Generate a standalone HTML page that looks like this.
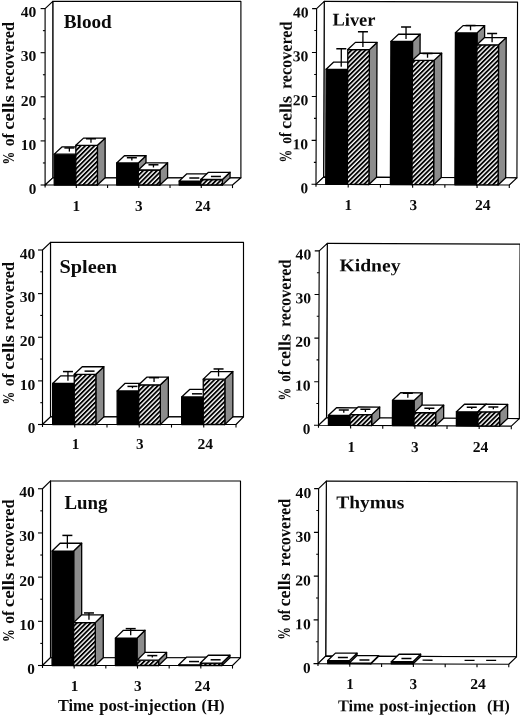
<!DOCTYPE html>
<html>
<head>
<meta charset="utf-8">
<title>Cell recovery by organ</title>
<style>
html,body{margin:0;padding:0;background:#fff;}
body{width:520px;height:717px;overflow:hidden;font-family:"Liberation Serif",serif;}
svg{display:block;filter:grayscale(1);}
svg text{font-family:"Liberation Serif",serif;font-weight:bold;fill:#0a0a0a;}
</style>
</head>
<body>
<svg width="520" height="717" viewBox="0 0 520 717">
<defs>
<pattern id="h" patternUnits="userSpaceOnUse" width="3.25" height="3.25" patternTransform="rotate(-45)">
<rect width="3.25" height="3.25" fill="#fff"/>
<rect width="3.25" height="1.85" fill="#000"/>
</pattern>
</defs>
<rect width="520" height="717" fill="#fff"/>
<g>
<polygon points="52.8,1.4 240.9,1.4 240.9,177.8 52.8,177.8" fill="#fff" stroke="#000" stroke-width="1.15" stroke-linejoin="round" />
<polygon points="45.1,8.6 52.8,1.4 52.8,177.8 45.1,185" fill="#fff" stroke="#000" stroke-width="1.15" stroke-linejoin="round" />
<polygon points="45.1,185 52.8,177.8 240.9,177.8 232.5,185" fill="#fff" stroke="#000" stroke-width="1.15" stroke-linejoin="round" />
<line x1="40.6" y1="185" x2="45.1" y2="185" stroke="#000" stroke-width="1.1"/>
<text x="36.4" y="193.7" font-size="15.2" text-anchor="end" >0</text>
<line x1="42.9" y1="162.95" x2="45.1" y2="162.95" stroke="#000" stroke-width="1.1"/>
<line x1="40.6" y1="140.9" x2="45.1" y2="140.9" stroke="#000" stroke-width="1.1"/>
<text x="36.4" y="149.6" font-size="15.2" text-anchor="end" textLength="15.6" lengthAdjust="spacingAndGlyphs">10</text>
<line x1="42.9" y1="118.85" x2="45.1" y2="118.85" stroke="#000" stroke-width="1.1"/>
<line x1="40.6" y1="96.8" x2="45.1" y2="96.8" stroke="#000" stroke-width="1.1"/>
<text x="36.4" y="105.5" font-size="15.2" text-anchor="end" textLength="15.6" lengthAdjust="spacingAndGlyphs">20</text>
<line x1="42.9" y1="74.75" x2="45.1" y2="74.75" stroke="#000" stroke-width="1.1"/>
<line x1="40.6" y1="52.7" x2="45.1" y2="52.7" stroke="#000" stroke-width="1.1"/>
<text x="36.4" y="61.4" font-size="15.2" text-anchor="end" textLength="15.6" lengthAdjust="spacingAndGlyphs">30</text>
<line x1="42.9" y1="30.65" x2="45.1" y2="30.65" stroke="#000" stroke-width="1.1"/>
<line x1="40.6" y1="8.6" x2="45.1" y2="8.6" stroke="#000" stroke-width="1.1"/>
<text x="36.4" y="17.3" font-size="15.2" text-anchor="end" textLength="15.6" lengthAdjust="spacingAndGlyphs">40</text>
<line x1="45.1" y1="185" x2="45.1" y2="187.5" stroke="#000" stroke-width="1.1"/>
<line x1="76.33" y1="185" x2="76.33" y2="188.1" stroke="#000" stroke-width="1.1"/>
<line x1="107.57" y1="185" x2="107.57" y2="188.1" stroke="#000" stroke-width="1.1"/>
<line x1="138.8" y1="185" x2="138.8" y2="188.1" stroke="#000" stroke-width="1.1"/>
<line x1="170.03" y1="185" x2="170.03" y2="188.1" stroke="#000" stroke-width="1.1"/>
<line x1="201.27" y1="185" x2="201.27" y2="188.1" stroke="#000" stroke-width="1.1"/>
<line x1="232.5" y1="185" x2="232.5" y2="188.1" stroke="#000" stroke-width="1.1"/>
<polygon points="75.83,154.13 83.53,146.93 83.53,177.8 75.83,185" fill="#8c8c8c" stroke="#000" stroke-width="1.3" stroke-linejoin="round" />
<polygon points="54.23,154.13 75.83,154.13 75.83,185 54.23,185" fill="#000" stroke="#000" stroke-width="1.3" stroke-linejoin="round" />
<polygon points="54.23,154.13 61.93,146.93 83.53,146.93 75.83,154.13" fill="#fff" stroke="#000" stroke-width="1.3" stroke-linejoin="round" />
<line x1="69.38" y1="151.61" x2="69.38" y2="147.93" stroke="#000" stroke-width="1.3"/>
<line x1="64.38" y1="147.93" x2="74.38" y2="147.93" stroke="#000" stroke-width="1.5"/>
<polygon points="97.43,145.31 105.13,138.11 105.13,177.8 97.43,185" fill="#8c8c8c" stroke="#000" stroke-width="1.3" stroke-linejoin="round" />
<polygon points="75.83,145.31 97.43,145.31 97.43,185 75.83,185" fill="url(#h)" stroke="#000" stroke-width="1.3" stroke-linejoin="round" />
<polygon points="75.83,145.31 83.53,138.11 105.13,138.11 97.43,145.31" fill="#fff" stroke="#000" stroke-width="1.3" stroke-linejoin="round" />
<line x1="90.98" y1="142.79" x2="90.98" y2="138.76" stroke="#000" stroke-width="1.3"/>
<line x1="85.98" y1="138.76" x2="95.98" y2="138.76" stroke="#000" stroke-width="1.5"/>
<polygon points="138.3,162.95 146,155.75 146,177.8 138.3,185" fill="#8c8c8c" stroke="#000" stroke-width="1.3" stroke-linejoin="round" />
<polygon points="116.7,162.95 138.3,162.95 138.3,185 116.7,185" fill="#000" stroke="#000" stroke-width="1.3" stroke-linejoin="round" />
<polygon points="116.7,162.95 124.4,155.75 146,155.75 138.3,162.95" fill="#fff" stroke="#000" stroke-width="1.3" stroke-linejoin="round" />
<line x1="131.85" y1="160.43" x2="131.85" y2="157.72" stroke="#000" stroke-width="1.3"/>
<line x1="126.85" y1="157.72" x2="136.85" y2="157.72" stroke="#000" stroke-width="1.5"/>
<polygon points="159.9,170.01 167.6,162.81 167.6,177.8 159.9,185" fill="#8c8c8c" stroke="#000" stroke-width="1.3" stroke-linejoin="round" />
<polygon points="138.3,170.01 159.9,170.01 159.9,185 138.3,185" fill="url(#h)" stroke="#000" stroke-width="1.3" stroke-linejoin="round" />
<polygon points="138.3,170.01 146,162.81 167.6,162.81 159.9,170.01" fill="#fff" stroke="#000" stroke-width="1.3" stroke-linejoin="round" />
<line x1="153.45" y1="167.48" x2="153.45" y2="164.78" stroke="#000" stroke-width="1.3"/>
<line x1="148.45" y1="164.78" x2="158.45" y2="164.78" stroke="#000" stroke-width="1.5"/>
<polygon points="200.77,181.03 208.47,173.83 208.47,177.8 200.77,185" fill="#8c8c8c" stroke="#000" stroke-width="1.3" stroke-linejoin="round" />
<polygon points="179.17,181.03 200.77,181.03 200.77,185 179.17,185" fill="#000" stroke="#000" stroke-width="1.3" stroke-linejoin="round" />
<polygon points="179.17,181.03 186.87,173.83 208.47,173.83 200.77,181.03" fill="#fff" stroke="#000" stroke-width="1.3" stroke-linejoin="round" />
<line x1="189.32" y1="178.01" x2="199.32" y2="178.01" stroke="#000" stroke-width="1.5"/>
<polygon points="222.37,179.49 230.07,172.29 230.07,177.8 222.37,185" fill="#8c8c8c" stroke="#000" stroke-width="1.3" stroke-linejoin="round" />
<polygon points="200.77,179.49 222.37,179.49 222.37,185 200.77,185" fill="url(#h)" stroke="#000" stroke-width="1.3" stroke-linejoin="round" />
<polygon points="200.77,179.49 208.47,172.29 230.07,172.29 222.37,179.49" fill="#fff" stroke="#000" stroke-width="1.3" stroke-linejoin="round" />
<line x1="210.92" y1="176.46" x2="220.92" y2="176.46" stroke="#000" stroke-width="1.5"/>
<text x="76.3" y="211" font-size="15.2" text-anchor="middle" >1</text>
<text x="138.8" y="211" font-size="15.2" text-anchor="middle" >3</text>
<text x="202.7" y="211" font-size="15.2" text-anchor="middle" textLength="15.6" lengthAdjust="spacingAndGlyphs">24</text>
<text x="63.75" y="27.5" font-size="17.9" text-anchor="start" textLength="48" lengthAdjust="spacingAndGlyphs">Blood</text>
<text transform="translate(14.3 163.3) rotate(-90)" font-size="17.5"><tspan x="-1.2" textLength="12.8" lengthAdjust="spacingAndGlyphs">%</tspan><tspan x="17" textLength="13" lengthAdjust="spacingAndGlyphs">of</tspan><tspan x="33.5" textLength="34.6" lengthAdjust="spacingAndGlyphs">cells</tspan><tspan x="73.4" textLength="67.9" lengthAdjust="spacingAndGlyphs">recovered</tspan></text>
</g>
<g transform="rotate(0.2 316 184.3)">
<polygon points="323.6,1.4 516.9,1.4 516.9,177.1 323.6,177.1" fill="#fff" stroke="#000" stroke-width="1.15" stroke-linejoin="round" />
<polygon points="316,8.6 323.6,1.4 323.6,177.1 316,184.3" fill="#fff" stroke="#000" stroke-width="1.15" stroke-linejoin="round" />
<polygon points="316,184.3 323.6,177.1 516.9,177.1 509.3,184.3" fill="#fff" stroke="#000" stroke-width="1.15" stroke-linejoin="round" />
<line x1="311.5" y1="184.3" x2="316" y2="184.3" stroke="#000" stroke-width="1.1"/>
<text x="308" y="193.2" font-size="15.2" text-anchor="end" >0</text>
<line x1="313.8" y1="162.34" x2="316" y2="162.34" stroke="#000" stroke-width="1.1"/>
<line x1="311.5" y1="140.38" x2="316" y2="140.38" stroke="#000" stroke-width="1.1"/>
<text x="308" y="149.28" font-size="15.2" text-anchor="end" textLength="15.6" lengthAdjust="spacingAndGlyphs">10</text>
<line x1="313.8" y1="118.41" x2="316" y2="118.41" stroke="#000" stroke-width="1.1"/>
<line x1="311.5" y1="96.45" x2="316" y2="96.45" stroke="#000" stroke-width="1.1"/>
<text x="308" y="105.35" font-size="15.2" text-anchor="end" textLength="15.6" lengthAdjust="spacingAndGlyphs">20</text>
<line x1="313.8" y1="74.49" x2="316" y2="74.49" stroke="#000" stroke-width="1.1"/>
<line x1="311.5" y1="52.53" x2="316" y2="52.53" stroke="#000" stroke-width="1.1"/>
<text x="308" y="61.43" font-size="15.2" text-anchor="end" textLength="15.6" lengthAdjust="spacingAndGlyphs">30</text>
<line x1="313.8" y1="30.56" x2="316" y2="30.56" stroke="#000" stroke-width="1.1"/>
<line x1="311.5" y1="8.6" x2="316" y2="8.6" stroke="#000" stroke-width="1.1"/>
<text x="308" y="17.5" font-size="15.2" text-anchor="end" textLength="15.6" lengthAdjust="spacingAndGlyphs">40</text>
<line x1="316" y1="184.3" x2="316" y2="186.8" stroke="#000" stroke-width="1.1"/>
<line x1="348.22" y1="184.3" x2="348.22" y2="187.4" stroke="#000" stroke-width="1.1"/>
<line x1="380.43" y1="184.3" x2="380.43" y2="187.4" stroke="#000" stroke-width="1.1"/>
<line x1="412.65" y1="184.3" x2="412.65" y2="187.4" stroke="#000" stroke-width="1.1"/>
<line x1="444.87" y1="184.3" x2="444.87" y2="187.4" stroke="#000" stroke-width="1.1"/>
<line x1="477.08" y1="184.3" x2="477.08" y2="187.4" stroke="#000" stroke-width="1.1"/>
<line x1="509.3" y1="184.3" x2="509.3" y2="187.4" stroke="#000" stroke-width="1.1"/>
<polygon points="347.32,69.22 354.92,62.02 354.92,177.1 347.32,184.3" fill="#8c8c8c" stroke="#000" stroke-width="1.3" stroke-linejoin="round" />
<polygon points="325.72,69.22 347.32,69.22 347.32,184.3 325.72,184.3" fill="#000" stroke="#000" stroke-width="1.3" stroke-linejoin="round" />
<polygon points="325.72,69.22 333.32,62.02 354.92,62.02 347.32,69.22" fill="#fff" stroke="#000" stroke-width="1.3" stroke-linejoin="round" />
<line x1="340.82" y1="66.69" x2="340.82" y2="48.62" stroke="#000" stroke-width="1.3"/>
<line x1="335.82" y1="48.62" x2="345.82" y2="48.62" stroke="#000" stroke-width="1.5"/>
<polygon points="368.92,49.45 376.52,42.25 376.52,177.1 368.92,184.3" fill="#8c8c8c" stroke="#000" stroke-width="1.3" stroke-linejoin="round" />
<polygon points="347.32,49.45 368.92,49.45 368.92,184.3 347.32,184.3" fill="url(#h)" stroke="#000" stroke-width="1.3" stroke-linejoin="round" />
<polygon points="347.32,49.45 354.92,42.25 376.52,42.25 368.92,49.45" fill="#fff" stroke="#000" stroke-width="1.3" stroke-linejoin="round" />
<line x1="362.42" y1="46.93" x2="362.42" y2="31.62" stroke="#000" stroke-width="1.3"/>
<line x1="357.42" y1="31.62" x2="367.42" y2="31.62" stroke="#000" stroke-width="1.5"/>
<polygon points="412,41.1 419.6,33.9 419.6,177.1 412,184.3" fill="#8c8c8c" stroke="#000" stroke-width="1.3" stroke-linejoin="round" />
<polygon points="390.4,41.1 412,41.1 412,184.3 390.4,184.3" fill="#000" stroke="#000" stroke-width="1.3" stroke-linejoin="round" />
<polygon points="390.4,41.1 398,33.9 419.6,33.9 412,41.1" fill="#fff" stroke="#000" stroke-width="1.3" stroke-linejoin="round" />
<line x1="405.5" y1="38.58" x2="405.5" y2="26.66" stroke="#000" stroke-width="1.3"/>
<line x1="400.5" y1="26.66" x2="410.5" y2="26.66" stroke="#000" stroke-width="1.5"/>
<polygon points="433.6,59.99 441.2,52.79 441.2,177.1 433.6,184.3" fill="#8c8c8c" stroke="#000" stroke-width="1.3" stroke-linejoin="round" />
<polygon points="412,59.99 433.6,59.99 433.6,184.3 412,184.3" fill="url(#h)" stroke="#000" stroke-width="1.3" stroke-linejoin="round" />
<polygon points="412,59.99 419.6,52.79 441.2,52.79 433.6,59.99" fill="#fff" stroke="#000" stroke-width="1.3" stroke-linejoin="round" />
<line x1="427.1" y1="57.47" x2="427.1" y2="53.02" stroke="#000" stroke-width="1.3"/>
<line x1="422.1" y1="53.02" x2="432.1" y2="53.02" stroke="#000" stroke-width="1.5"/>
<polygon points="476.48,32.32 484.08,25.12 484.08,177.1 476.48,184.3" fill="#8c8c8c" stroke="#000" stroke-width="1.3" stroke-linejoin="round" />
<polygon points="454.88,32.32 476.48,32.32 476.48,184.3 454.88,184.3" fill="#000" stroke="#000" stroke-width="1.3" stroke-linejoin="round" />
<polygon points="454.88,32.32 462.48,25.12 484.08,25.12 476.48,32.32" fill="#fff" stroke="#000" stroke-width="1.3" stroke-linejoin="round" />
<line x1="469.98" y1="29.8" x2="469.98" y2="24.9" stroke="#000" stroke-width="1.3"/>
<line x1="464.98" y1="24.9" x2="474.98" y2="24.9" stroke="#000" stroke-width="1.5"/>
<polygon points="498.08,44.18 505.68,36.98 505.68,177.1 498.08,184.3" fill="#8c8c8c" stroke="#000" stroke-width="1.3" stroke-linejoin="round" />
<polygon points="476.48,44.18 498.08,44.18 498.08,184.3 476.48,184.3" fill="url(#h)" stroke="#000" stroke-width="1.3" stroke-linejoin="round" />
<polygon points="476.48,44.18 484.08,36.98 505.68,36.98 498.08,44.18" fill="#fff" stroke="#000" stroke-width="1.3" stroke-linejoin="round" />
<line x1="491.58" y1="41.66" x2="491.58" y2="32.81" stroke="#000" stroke-width="1.3"/>
<line x1="486.58" y1="32.81" x2="496.58" y2="32.81" stroke="#000" stroke-width="1.5"/>
<text x="348.39" y="209.89" font-size="15.2" text-anchor="middle" >1</text>
<text x="413.39" y="209.66" font-size="15.2" text-anchor="middle" >3</text>
<text x="482.79" y="209.42" font-size="15.2" text-anchor="middle" textLength="15.6" lengthAdjust="spacingAndGlyphs">24</text>
<text x="331.95" y="25.54" font-size="17.9" text-anchor="start" textLength="43" lengthAdjust="spacingAndGlyphs">Liver</text>
<text transform="translate(291.18 161.39) rotate(-90)" font-size="17.5"><tspan x="-1.2" textLength="12.8" lengthAdjust="spacingAndGlyphs">%</tspan><tspan x="17.6" textLength="11.2" lengthAdjust="spacingAndGlyphs">of</tspan><tspan x="32.2" textLength="33.2" lengthAdjust="spacingAndGlyphs">cells</tspan><tspan x="72.2" textLength="67.6" lengthAdjust="spacingAndGlyphs">recovered</tspan></text>
</g>
<g>
<polygon points="50.5,242.4 243.5,242.4 243.5,416.9 50.5,416.9" fill="#fff" stroke="#000" stroke-width="1.15" stroke-linejoin="round" />
<polygon points="42.5,250 50.5,242.4 50.5,416.9 42.5,424.5" fill="#fff" stroke="#000" stroke-width="1.15" stroke-linejoin="round" />
<polygon points="42.5,424.5 50.5,416.9 243.5,416.9 236,424.5" fill="#fff" stroke="#000" stroke-width="1.15" stroke-linejoin="round" />
<line x1="38" y1="424.5" x2="42.5" y2="424.5" stroke="#000" stroke-width="1.1"/>
<text x="35.4" y="433.3" font-size="15.2" text-anchor="end" >0</text>
<line x1="40.3" y1="402.69" x2="42.5" y2="402.69" stroke="#000" stroke-width="1.1"/>
<line x1="38" y1="380.88" x2="42.5" y2="380.88" stroke="#000" stroke-width="1.1"/>
<text x="35.4" y="389.68" font-size="15.2" text-anchor="end" textLength="15.6" lengthAdjust="spacingAndGlyphs">10</text>
<line x1="40.3" y1="359.06" x2="42.5" y2="359.06" stroke="#000" stroke-width="1.1"/>
<line x1="38" y1="337.25" x2="42.5" y2="337.25" stroke="#000" stroke-width="1.1"/>
<text x="35.4" y="346.05" font-size="15.2" text-anchor="end" textLength="15.6" lengthAdjust="spacingAndGlyphs">20</text>
<line x1="40.3" y1="315.44" x2="42.5" y2="315.44" stroke="#000" stroke-width="1.1"/>
<line x1="38" y1="293.62" x2="42.5" y2="293.62" stroke="#000" stroke-width="1.1"/>
<text x="35.4" y="302.43" font-size="15.2" text-anchor="end" textLength="15.6" lengthAdjust="spacingAndGlyphs">30</text>
<line x1="40.3" y1="271.81" x2="42.5" y2="271.81" stroke="#000" stroke-width="1.1"/>
<line x1="38" y1="250" x2="42.5" y2="250" stroke="#000" stroke-width="1.1"/>
<text x="35.4" y="258.8" font-size="15.2" text-anchor="end" textLength="15.6" lengthAdjust="spacingAndGlyphs">40</text>
<line x1="42.5" y1="424.5" x2="42.5" y2="427" stroke="#000" stroke-width="1.1"/>
<line x1="74.75" y1="424.5" x2="74.75" y2="427.6" stroke="#000" stroke-width="1.1"/>
<line x1="107" y1="424.5" x2="107" y2="427.6" stroke="#000" stroke-width="1.1"/>
<line x1="139.25" y1="424.5" x2="139.25" y2="427.6" stroke="#000" stroke-width="1.1"/>
<line x1="171.5" y1="424.5" x2="171.5" y2="427.6" stroke="#000" stroke-width="1.1"/>
<line x1="203.75" y1="424.5" x2="203.75" y2="427.6" stroke="#000" stroke-width="1.1"/>
<line x1="236" y1="424.5" x2="236" y2="427.6" stroke="#000" stroke-width="1.1"/>
<polygon points="74.25,383.49 82.25,375.89 82.25,416.9 74.25,424.5" fill="#8c8c8c" stroke="#000" stroke-width="1.3" stroke-linejoin="round" />
<polygon points="52.65,383.49 74.25,383.49 74.25,424.5 52.65,424.5" fill="#000" stroke="#000" stroke-width="1.3" stroke-linejoin="round" />
<polygon points="52.65,383.49 60.65,375.89 82.25,375.89 74.25,383.49" fill="#fff" stroke="#000" stroke-width="1.3" stroke-linejoin="round" />
<line x1="67.95" y1="380.8" x2="67.95" y2="371.58" stroke="#000" stroke-width="1.3"/>
<line x1="62.95" y1="371.58" x2="72.95" y2="371.58" stroke="#000" stroke-width="1.5"/>
<polygon points="95.85,374.33 103.85,366.73 103.85,416.9 95.85,424.5" fill="#8c8c8c" stroke="#000" stroke-width="1.3" stroke-linejoin="round" />
<polygon points="74.25,374.33 95.85,374.33 95.85,424.5 74.25,424.5" fill="url(#h)" stroke="#000" stroke-width="1.3" stroke-linejoin="round" />
<polygon points="74.25,374.33 82.25,366.73 103.85,366.73 95.85,374.33" fill="#fff" stroke="#000" stroke-width="1.3" stroke-linejoin="round" />
<line x1="84.55" y1="371.14" x2="94.55" y2="371.14" stroke="#000" stroke-width="1.5"/>
<polygon points="138.75,390.91 146.75,383.31 146.75,416.9 138.75,424.5" fill="#8c8c8c" stroke="#000" stroke-width="1.3" stroke-linejoin="round" />
<polygon points="117.15,390.91 138.75,390.91 138.75,424.5 117.15,424.5" fill="#000" stroke="#000" stroke-width="1.3" stroke-linejoin="round" />
<polygon points="117.15,390.91 125.15,383.31 146.75,383.31 138.75,390.91" fill="#fff" stroke="#000" stroke-width="1.3" stroke-linejoin="round" />
<line x1="132.45" y1="388.22" x2="132.45" y2="386.41" stroke="#000" stroke-width="1.3"/>
<line x1="127.45" y1="386.41" x2="137.45" y2="386.41" stroke="#000" stroke-width="1.5"/>
<polygon points="160.35,384.8 168.35,377.2 168.35,416.9 160.35,424.5" fill="#8c8c8c" stroke="#000" stroke-width="1.3" stroke-linejoin="round" />
<polygon points="138.75,384.8 160.35,384.8 160.35,424.5 138.75,424.5" fill="url(#h)" stroke="#000" stroke-width="1.3" stroke-linejoin="round" />
<polygon points="138.75,384.8 146.75,377.2 168.35,377.2 160.35,384.8" fill="#fff" stroke="#000" stroke-width="1.3" stroke-linejoin="round" />
<line x1="154.05" y1="382.11" x2="154.05" y2="377.68" stroke="#000" stroke-width="1.3"/>
<line x1="149.05" y1="377.68" x2="159.05" y2="377.68" stroke="#000" stroke-width="1.5"/>
<polygon points="203.25,397.02 211.25,389.42 211.25,416.9 203.25,424.5" fill="#8c8c8c" stroke="#000" stroke-width="1.3" stroke-linejoin="round" />
<polygon points="181.65,397.02 203.25,397.02 203.25,424.5 181.65,424.5" fill="#000" stroke="#000" stroke-width="1.3" stroke-linejoin="round" />
<polygon points="181.65,397.02 189.65,389.42 211.25,389.42 203.25,397.02" fill="#fff" stroke="#000" stroke-width="1.3" stroke-linejoin="round" />
<line x1="191.95" y1="393.82" x2="201.95" y2="393.82" stroke="#000" stroke-width="1.5"/>
<polygon points="224.85,379.13 232.85,371.53 232.85,416.9 224.85,424.5" fill="#8c8c8c" stroke="#000" stroke-width="1.3" stroke-linejoin="round" />
<polygon points="203.25,379.13 224.85,379.13 224.85,424.5 203.25,424.5" fill="url(#h)" stroke="#000" stroke-width="1.3" stroke-linejoin="round" />
<polygon points="203.25,379.13 211.25,371.53 232.85,371.53 224.85,379.13" fill="#fff" stroke="#000" stroke-width="1.3" stroke-linejoin="round" />
<line x1="218.55" y1="376.44" x2="218.55" y2="368.96" stroke="#000" stroke-width="1.3"/>
<line x1="213.55" y1="368.96" x2="223.55" y2="368.96" stroke="#000" stroke-width="1.5"/>
<text x="75.6" y="449" font-size="15.2" text-anchor="middle" >1</text>
<text x="139.9" y="449" font-size="15.2" text-anchor="middle" >3</text>
<text x="205.3" y="449" font-size="15.2" text-anchor="middle" textLength="15.6" lengthAdjust="spacingAndGlyphs">24</text>
<text x="59.5" y="272.5" font-size="17.9" text-anchor="start" textLength="57.5" lengthAdjust="spacingAndGlyphs">Spleen</text>
<text transform="translate(13.9 403.3) rotate(-90)" font-size="17.5"><tspan x="-1.2" textLength="12.8" lengthAdjust="spacingAndGlyphs">%</tspan><tspan x="17" textLength="13" lengthAdjust="spacingAndGlyphs">of</tspan><tspan x="33.5" textLength="34.6" lengthAdjust="spacingAndGlyphs">cells</tspan><tspan x="73.4" textLength="67.9" lengthAdjust="spacingAndGlyphs">recovered</tspan></text>
</g>
<g transform="rotate(0.25 318.5 425.3)">
<polygon points="326.5,243.3 519.3,243.3 519.3,417.7 326.5,417.7" fill="#fff" stroke="#000" stroke-width="1.15" stroke-linejoin="round" />
<polygon points="318.5,250.9 326.5,243.3 326.5,417.7 318.5,425.3" fill="#fff" stroke="#000" stroke-width="1.15" stroke-linejoin="round" />
<polygon points="318.5,425.3 326.5,417.7 519.3,417.7 511.3,425.3" fill="#fff" stroke="#000" stroke-width="1.15" stroke-linejoin="round" />
<line x1="314" y1="425.3" x2="318.5" y2="425.3" stroke="#000" stroke-width="1.1"/>
<text x="310.5" y="434.1" font-size="15.2" text-anchor="end" >0</text>
<line x1="316.3" y1="403.5" x2="318.5" y2="403.5" stroke="#000" stroke-width="1.1"/>
<line x1="314" y1="381.7" x2="318.5" y2="381.7" stroke="#000" stroke-width="1.1"/>
<text x="310.5" y="390.5" font-size="15.2" text-anchor="end" textLength="15.6" lengthAdjust="spacingAndGlyphs">10</text>
<line x1="316.3" y1="359.9" x2="318.5" y2="359.9" stroke="#000" stroke-width="1.1"/>
<line x1="314" y1="338.1" x2="318.5" y2="338.1" stroke="#000" stroke-width="1.1"/>
<text x="310.5" y="346.9" font-size="15.2" text-anchor="end" textLength="15.6" lengthAdjust="spacingAndGlyphs">20</text>
<line x1="316.3" y1="316.3" x2="318.5" y2="316.3" stroke="#000" stroke-width="1.1"/>
<line x1="314" y1="294.5" x2="318.5" y2="294.5" stroke="#000" stroke-width="1.1"/>
<text x="310.5" y="303.3" font-size="15.2" text-anchor="end" textLength="15.6" lengthAdjust="spacingAndGlyphs">30</text>
<line x1="316.3" y1="272.7" x2="318.5" y2="272.7" stroke="#000" stroke-width="1.1"/>
<line x1="314" y1="250.9" x2="318.5" y2="250.9" stroke="#000" stroke-width="1.1"/>
<text x="310.5" y="259.7" font-size="15.2" text-anchor="end" textLength="15.6" lengthAdjust="spacingAndGlyphs">40</text>
<line x1="318.5" y1="425.3" x2="318.5" y2="427.8" stroke="#000" stroke-width="1.1"/>
<line x1="350.63" y1="425.3" x2="350.63" y2="428.4" stroke="#000" stroke-width="1.1"/>
<line x1="382.77" y1="425.3" x2="382.77" y2="428.4" stroke="#000" stroke-width="1.1"/>
<line x1="414.9" y1="425.3" x2="414.9" y2="428.4" stroke="#000" stroke-width="1.1"/>
<line x1="447.03" y1="425.3" x2="447.03" y2="428.4" stroke="#000" stroke-width="1.1"/>
<line x1="479.17" y1="425.3" x2="479.17" y2="428.4" stroke="#000" stroke-width="1.1"/>
<line x1="511.3" y1="425.3" x2="511.3" y2="428.4" stroke="#000" stroke-width="1.1"/>
<polygon points="350.03,415.27 358.03,407.67 358.03,417.7 350.03,425.3" fill="#8c8c8c" stroke="#000" stroke-width="1.3" stroke-linejoin="round" />
<polygon points="328.43,415.27 350.03,415.27 350.03,425.3 328.43,425.3" fill="#000" stroke="#000" stroke-width="1.3" stroke-linejoin="round" />
<polygon points="328.43,415.27 336.43,407.67 358.03,407.67 350.03,415.27" fill="#fff" stroke="#000" stroke-width="1.3" stroke-linejoin="round" />
<line x1="343.73" y1="412.58" x2="343.73" y2="409.9" stroke="#000" stroke-width="1.3"/>
<line x1="338.73" y1="409.9" x2="348.73" y2="409.9" stroke="#000" stroke-width="1.5"/>
<polygon points="371.63,414.4 379.63,406.8 379.63,417.7 371.63,425.3" fill="#8c8c8c" stroke="#000" stroke-width="1.3" stroke-linejoin="round" />
<polygon points="350.03,414.4 371.63,414.4 371.63,425.3 350.03,425.3" fill="url(#h)" stroke="#000" stroke-width="1.3" stroke-linejoin="round" />
<polygon points="350.03,414.4 358.03,406.8 379.63,406.8 371.63,414.4" fill="#fff" stroke="#000" stroke-width="1.3" stroke-linejoin="round" />
<line x1="365.33" y1="411.71" x2="365.33" y2="409.03" stroke="#000" stroke-width="1.3"/>
<line x1="360.33" y1="409.03" x2="370.33" y2="409.03" stroke="#000" stroke-width="1.5"/>
<polygon points="414,400.01 422,392.41 422,417.7 414,425.3" fill="#8c8c8c" stroke="#000" stroke-width="1.3" stroke-linejoin="round" />
<polygon points="392.4,400.01 414,400.01 414,425.3 392.4,425.3" fill="#000" stroke="#000" stroke-width="1.3" stroke-linejoin="round" />
<polygon points="392.4,400.01 400.4,392.41 422,392.41 414,400.01" fill="#fff" stroke="#000" stroke-width="1.3" stroke-linejoin="round" />
<line x1="407.7" y1="397.32" x2="407.7" y2="392.9" stroke="#000" stroke-width="1.3"/>
<line x1="402.7" y1="392.9" x2="412.7" y2="392.9" stroke="#000" stroke-width="1.5"/>
<polygon points="435.6,412.22 443.6,404.62 443.6,417.7 435.6,425.3" fill="#8c8c8c" stroke="#000" stroke-width="1.3" stroke-linejoin="round" />
<polygon points="414,412.22 435.6,412.22 435.6,425.3 414,425.3" fill="url(#h)" stroke="#000" stroke-width="1.3" stroke-linejoin="round" />
<polygon points="414,412.22 422,404.62 443.6,404.62 435.6,412.22" fill="#fff" stroke="#000" stroke-width="1.3" stroke-linejoin="round" />
<line x1="429.3" y1="409.53" x2="429.3" y2="407.72" stroke="#000" stroke-width="1.3"/>
<line x1="424.3" y1="407.72" x2="434.3" y2="407.72" stroke="#000" stroke-width="1.5"/>
<polygon points="477.97,411.13 485.97,403.53 485.97,417.7 477.97,425.3" fill="#8c8c8c" stroke="#000" stroke-width="1.3" stroke-linejoin="round" />
<polygon points="456.37,411.13 477.97,411.13 477.97,425.3 456.37,425.3" fill="#000" stroke="#000" stroke-width="1.3" stroke-linejoin="round" />
<polygon points="456.37,411.13 464.37,403.53 485.97,403.53 477.97,411.13" fill="#fff" stroke="#000" stroke-width="1.3" stroke-linejoin="round" />
<line x1="471.67" y1="408.44" x2="471.67" y2="406.63" stroke="#000" stroke-width="1.3"/>
<line x1="466.67" y1="406.63" x2="476.67" y2="406.63" stroke="#000" stroke-width="1.5"/>
<polygon points="499.57,411.13 507.57,403.53 507.57,417.7 499.57,425.3" fill="#8c8c8c" stroke="#000" stroke-width="1.3" stroke-linejoin="round" />
<polygon points="477.97,411.13 499.57,411.13 499.57,425.3 477.97,425.3" fill="url(#h)" stroke="#000" stroke-width="1.3" stroke-linejoin="round" />
<polygon points="477.97,411.13 485.97,403.53 507.57,403.53 499.57,411.13" fill="#fff" stroke="#000" stroke-width="1.3" stroke-linejoin="round" />
<line x1="493.27" y1="408.44" x2="493.27" y2="406.19" stroke="#000" stroke-width="1.3"/>
<line x1="488.27" y1="406.19" x2="498.27" y2="406.19" stroke="#000" stroke-width="1.5"/>
<text x="351.32" y="451.86" font-size="15.2" text-anchor="middle" >1</text>
<text x="414.92" y="451.58" font-size="15.2" text-anchor="middle" >3</text>
<text x="480.61" y="451.29" font-size="15.2" text-anchor="middle" textLength="15.6" lengthAdjust="spacingAndGlyphs">24</text>
<text x="338.83" y="271.16" font-size="17.9" text-anchor="start" textLength="61" lengthAdjust="spacingAndGlyphs">Kidney</text>
<text transform="translate(290.08 399.42) rotate(-90)" font-size="17.5"><tspan x="-1.2" textLength="12.8" lengthAdjust="spacingAndGlyphs">%</tspan><tspan x="17.6" textLength="11.2" lengthAdjust="spacingAndGlyphs">of</tspan><tspan x="32.2" textLength="33.2" lengthAdjust="spacingAndGlyphs">cells</tspan><tspan x="72.2" textLength="67.6" lengthAdjust="spacingAndGlyphs">recovered</tspan></text>
</g>
<g>
<polygon points="50.5,480.95 240.5,480.95 240.5,657.7 50.5,657.7" fill="#fff" stroke="#000" stroke-width="1.15" stroke-linejoin="round" />
<polygon points="42.5,488.75 50.5,480.95 50.5,657.7 42.5,665.5" fill="#fff" stroke="#000" stroke-width="1.15" stroke-linejoin="round" />
<polygon points="42.5,665.5 50.5,657.7 240.5,657.7 232.5,665.5" fill="#fff" stroke="#000" stroke-width="1.15" stroke-linejoin="round" />
<line x1="38" y1="665.5" x2="42.5" y2="665.5" stroke="#000" stroke-width="1.1"/>
<text x="34.8" y="674" font-size="15.2" text-anchor="end" >0</text>
<line x1="40.3" y1="643.41" x2="42.5" y2="643.41" stroke="#000" stroke-width="1.1"/>
<line x1="38" y1="621.31" x2="42.5" y2="621.31" stroke="#000" stroke-width="1.1"/>
<text x="34.8" y="629.81" font-size="15.2" text-anchor="end" textLength="15.6" lengthAdjust="spacingAndGlyphs">10</text>
<line x1="40.3" y1="599.22" x2="42.5" y2="599.22" stroke="#000" stroke-width="1.1"/>
<line x1="38" y1="577.12" x2="42.5" y2="577.12" stroke="#000" stroke-width="1.1"/>
<text x="34.8" y="585.62" font-size="15.2" text-anchor="end" textLength="15.6" lengthAdjust="spacingAndGlyphs">20</text>
<line x1="40.3" y1="555.03" x2="42.5" y2="555.03" stroke="#000" stroke-width="1.1"/>
<line x1="38" y1="532.94" x2="42.5" y2="532.94" stroke="#000" stroke-width="1.1"/>
<text x="34.8" y="541.44" font-size="15.2" text-anchor="end" textLength="15.6" lengthAdjust="spacingAndGlyphs">30</text>
<line x1="40.3" y1="510.84" x2="42.5" y2="510.84" stroke="#000" stroke-width="1.1"/>
<line x1="38" y1="488.75" x2="42.5" y2="488.75" stroke="#000" stroke-width="1.1"/>
<text x="34.8" y="497.25" font-size="15.2" text-anchor="end" textLength="15.6" lengthAdjust="spacingAndGlyphs">40</text>
<line x1="42.5" y1="665.5" x2="42.5" y2="668" stroke="#000" stroke-width="1.1"/>
<line x1="74.17" y1="665.5" x2="74.17" y2="668.6" stroke="#000" stroke-width="1.1"/>
<line x1="105.83" y1="665.5" x2="105.83" y2="668.6" stroke="#000" stroke-width="1.1"/>
<line x1="137.5" y1="665.5" x2="137.5" y2="668.6" stroke="#000" stroke-width="1.1"/>
<line x1="169.17" y1="665.5" x2="169.17" y2="668.6" stroke="#000" stroke-width="1.1"/>
<line x1="200.83" y1="665.5" x2="200.83" y2="668.6" stroke="#000" stroke-width="1.1"/>
<line x1="232.5" y1="665.5" x2="232.5" y2="668.6" stroke="#000" stroke-width="1.1"/>
<polygon points="73.67,551.05 81.67,543.25 81.67,657.7 73.67,665.5" fill="#8c8c8c" stroke="#000" stroke-width="1.3" stroke-linejoin="round" />
<polygon points="52.07,551.05 73.67,551.05 73.67,665.5 52.07,665.5" fill="#000" stroke="#000" stroke-width="1.3" stroke-linejoin="round" />
<polygon points="52.07,551.05 60.07,543.25 81.67,543.25 73.67,551.05" fill="#fff" stroke="#000" stroke-width="1.3" stroke-linejoin="round" />
<line x1="67.37" y1="548.28" x2="67.37" y2="535.41" stroke="#000" stroke-width="1.3"/>
<line x1="62.37" y1="535.41" x2="72.37" y2="535.41" stroke="#000" stroke-width="1.5"/>
<polygon points="95.27,622.64 103.27,614.84 103.27,657.7 95.27,665.5" fill="#8c8c8c" stroke="#000" stroke-width="1.3" stroke-linejoin="round" />
<polygon points="73.67,622.64 95.27,622.64 95.27,665.5 73.67,665.5" fill="url(#h)" stroke="#000" stroke-width="1.3" stroke-linejoin="round" />
<polygon points="73.67,622.64 81.67,614.84 103.27,614.84 95.27,622.64" fill="#fff" stroke="#000" stroke-width="1.3" stroke-linejoin="round" />
<line x1="88.97" y1="619.86" x2="88.97" y2="612.95" stroke="#000" stroke-width="1.3"/>
<line x1="83.97" y1="612.95" x2="93.97" y2="612.95" stroke="#000" stroke-width="1.5"/>
<polygon points="137,638.1 145,630.3 145,657.7 137,665.5" fill="#8c8c8c" stroke="#000" stroke-width="1.3" stroke-linejoin="round" />
<polygon points="115.4,638.1 137,638.1 137,665.5 115.4,665.5" fill="#000" stroke="#000" stroke-width="1.3" stroke-linejoin="round" />
<polygon points="115.4,638.1 123.4,630.3 145,630.3 137,638.1" fill="#fff" stroke="#000" stroke-width="1.3" stroke-linejoin="round" />
<line x1="130.7" y1="635.33" x2="130.7" y2="628.64" stroke="#000" stroke-width="1.3"/>
<line x1="125.7" y1="628.64" x2="135.7" y2="628.64" stroke="#000" stroke-width="1.5"/>
<polygon points="158.6,660.2 166.6,652.4 166.6,657.7 158.6,665.5" fill="#8c8c8c" stroke="#000" stroke-width="1.3" stroke-linejoin="round" />
<polygon points="137,660.2 158.6,660.2 158.6,665.5 137,665.5" fill="url(#h)" stroke="#000" stroke-width="1.3" stroke-linejoin="round" />
<polygon points="137,660.2 145,652.4 166.6,652.4 158.6,660.2" fill="#fff" stroke="#000" stroke-width="1.3" stroke-linejoin="round" />
<line x1="152.3" y1="657.42" x2="152.3" y2="655.6" stroke="#000" stroke-width="1.3"/>
<line x1="147.3" y1="655.6" x2="157.3" y2="655.6" stroke="#000" stroke-width="1.5"/>
<polygon points="200.33,664.84 208.33,657.04 208.33,657.7 200.33,665.5" fill="#8c8c8c" stroke="#000" stroke-width="1.3" stroke-linejoin="round" />
<polygon points="178.73,664.84 200.33,664.84 200.33,665.5 178.73,665.5" fill="#000" stroke="#000" stroke-width="1.3" stroke-linejoin="round" />
<polygon points="178.73,664.84 186.73,657.04 208.33,657.04 200.33,664.84" fill="#fff" stroke="#000" stroke-width="1.3" stroke-linejoin="round" />
<line x1="189.03" y1="661.56" x2="199.03" y2="661.56" stroke="#000" stroke-width="1.5"/>
<polygon points="221.93,663.07 229.93,655.27 229.93,657.7 221.93,665.5" fill="#8c8c8c" stroke="#000" stroke-width="1.3" stroke-linejoin="round" />
<polygon points="200.33,663.07 221.93,663.07 221.93,665.5 200.33,665.5" fill="url(#h)" stroke="#000" stroke-width="1.3" stroke-linejoin="round" />
<polygon points="200.33,663.07 208.33,655.27 229.93,655.27 221.93,663.07" fill="#fff" stroke="#000" stroke-width="1.3" stroke-linejoin="round" />
<line x1="210.63" y1="659.79" x2="220.63" y2="659.79" stroke="#000" stroke-width="1.5"/>
<text x="74.5" y="691" font-size="15.2" text-anchor="middle" >1</text>
<text x="137.7" y="691" font-size="15.2" text-anchor="middle" >3</text>
<text x="202.4" y="691" font-size="15.2" text-anchor="middle" textLength="15.6" lengthAdjust="spacingAndGlyphs">24</text>
<text x="64.5" y="508.75" font-size="17.9" text-anchor="start" textLength="43" lengthAdjust="spacingAndGlyphs">Lung</text>
<text transform="translate(13.9 640.7) rotate(-90)" font-size="17.5"><tspan x="-1.2" textLength="12.8" lengthAdjust="spacingAndGlyphs">%</tspan><tspan x="17" textLength="13" lengthAdjust="spacingAndGlyphs">of</tspan><tspan x="33.5" textLength="34.6" lengthAdjust="spacingAndGlyphs">cells</tspan><tspan x="73.4" textLength="67.9" lengthAdjust="spacingAndGlyphs">recovered</tspan></text>
<text font-size="16.5"><tspan x="58" y="711.2" textLength="35.8" lengthAdjust="spacingAndGlyphs">Time</tspan><tspan x="99.3" y="711.2" textLength="96.9" lengthAdjust="spacingAndGlyphs">post-injection</tspan><tspan x="201.6" y="711.2" textLength="23" lengthAdjust="spacingAndGlyphs">(H)</tspan></text>
</g>
<g transform="rotate(0.2 318 663.6)">
<polygon points="325.7,481.1 516.5,481.1 516.5,656.1 325.7,656.1" fill="#fff" stroke="#000" stroke-width="1.15" stroke-linejoin="round" />
<polygon points="318,488.6 325.7,481.1 325.7,656.1 318,663.6" fill="#fff" stroke="#000" stroke-width="1.15" stroke-linejoin="round" />
<polygon points="318,663.6 325.7,656.1 516.5,656.1 508.8,663.6" fill="#fff" stroke="#000" stroke-width="1.15" stroke-linejoin="round" />
<line x1="313.5" y1="663.6" x2="318" y2="663.6" stroke="#000" stroke-width="1.1"/>
<text x="310.6" y="673" font-size="15.2" text-anchor="end" >0</text>
<line x1="315.8" y1="641.73" x2="318" y2="641.73" stroke="#000" stroke-width="1.1"/>
<line x1="313.5" y1="619.85" x2="318" y2="619.85" stroke="#000" stroke-width="1.1"/>
<text x="310.6" y="629.25" font-size="15.2" text-anchor="end" textLength="15.6" lengthAdjust="spacingAndGlyphs">10</text>
<line x1="315.8" y1="597.98" x2="318" y2="597.98" stroke="#000" stroke-width="1.1"/>
<line x1="313.5" y1="576.1" x2="318" y2="576.1" stroke="#000" stroke-width="1.1"/>
<text x="310.6" y="585.5" font-size="15.2" text-anchor="end" textLength="15.6" lengthAdjust="spacingAndGlyphs">20</text>
<line x1="315.8" y1="554.23" x2="318" y2="554.23" stroke="#000" stroke-width="1.1"/>
<line x1="313.5" y1="532.35" x2="318" y2="532.35" stroke="#000" stroke-width="1.1"/>
<text x="310.6" y="541.75" font-size="15.2" text-anchor="end" textLength="15.6" lengthAdjust="spacingAndGlyphs">30</text>
<line x1="315.8" y1="510.48" x2="318" y2="510.48" stroke="#000" stroke-width="1.1"/>
<line x1="313.5" y1="488.6" x2="318" y2="488.6" stroke="#000" stroke-width="1.1"/>
<text x="310.6" y="498" font-size="15.2" text-anchor="end" textLength="15.6" lengthAdjust="spacingAndGlyphs">40</text>
<line x1="318" y1="663.6" x2="318" y2="666.1" stroke="#000" stroke-width="1.1"/>
<line x1="349.8" y1="663.6" x2="349.8" y2="666.7" stroke="#000" stroke-width="1.1"/>
<line x1="381.6" y1="663.6" x2="381.6" y2="666.7" stroke="#000" stroke-width="1.1"/>
<line x1="413.4" y1="663.6" x2="413.4" y2="666.7" stroke="#000" stroke-width="1.1"/>
<line x1="445.2" y1="663.6" x2="445.2" y2="666.7" stroke="#000" stroke-width="1.1"/>
<line x1="477" y1="663.6" x2="477" y2="666.7" stroke="#000" stroke-width="1.1"/>
<line x1="508.8" y1="663.6" x2="508.8" y2="666.7" stroke="#000" stroke-width="1.1"/>
<polygon points="349.3,660.54 357,653.04 357,656.1 349.3,663.6" fill="#8c8c8c" stroke="#000" stroke-width="1.3" stroke-linejoin="round" />
<polygon points="327.7,660.54 349.3,660.54 349.3,663.6 327.7,663.6" fill="#000" stroke="#000" stroke-width="1.3" stroke-linejoin="round" />
<polygon points="327.7,660.54 335.4,653.04 357,653.04 349.3,660.54" fill="#fff" stroke="#000" stroke-width="1.3" stroke-linejoin="round" />
<line x1="337.85" y1="657.39" x2="347.85" y2="657.39" stroke="#000" stroke-width="1.5"/>
<polygon points="370.9,662.94 378.6,655.44 378.6,656.1 370.9,663.6" fill="#8c8c8c" stroke="#000" stroke-width="1.3" stroke-linejoin="round" />
<polygon points="349.3,662.94 370.9,662.94 370.9,663.6 349.3,663.6" fill="url(#h)" stroke="#000" stroke-width="1.3" stroke-linejoin="round" />
<polygon points="349.3,662.94 357,655.44 378.6,655.44 370.9,662.94" fill="#fff" stroke="#000" stroke-width="1.3" stroke-linejoin="round" />
<line x1="359.45" y1="659.79" x2="369.45" y2="659.79" stroke="#000" stroke-width="1.5"/>
<polygon points="412.9,661.41 420.6,653.91 420.6,656.1 412.9,663.6" fill="#8c8c8c" stroke="#000" stroke-width="1.3" stroke-linejoin="round" />
<polygon points="391.3,661.41 412.9,661.41 412.9,663.6 391.3,663.6" fill="#000" stroke="#000" stroke-width="1.3" stroke-linejoin="round" />
<polygon points="391.3,661.41 399,653.91 420.6,653.91 412.9,661.41" fill="#fff" stroke="#000" stroke-width="1.3" stroke-linejoin="round" />
<line x1="401.45" y1="658.26" x2="411.45" y2="658.26" stroke="#000" stroke-width="1.5"/>
<line x1="422.55" y1="659.85" x2="432.55" y2="659.85" stroke="#000" stroke-width="1.3"/>
<line x1="464.55" y1="659.85" x2="474.55" y2="659.85" stroke="#000" stroke-width="1.3"/>
<line x1="486.15" y1="659.85" x2="496.15" y2="659.85" stroke="#000" stroke-width="1.3"/>
<text x="350.19" y="688.89" font-size="15.2" text-anchor="middle" >1</text>
<text x="413.39" y="688.67" font-size="15.2" text-anchor="middle" >3</text>
<text x="478.09" y="688.44" font-size="15.2" text-anchor="middle" textLength="15.6" lengthAdjust="spacingAndGlyphs">24</text>
<text x="335.71" y="508.14" font-size="17.9" text-anchor="start" textLength="68" lengthAdjust="spacingAndGlyphs">Thymus</text>
<text transform="translate(289.77 638.7) rotate(-90)" font-size="17.5"><tspan x="-1.2" textLength="12.8" lengthAdjust="spacingAndGlyphs">%</tspan><tspan x="17.6" textLength="11.2" lengthAdjust="spacingAndGlyphs">of</tspan><tspan x="32.2" textLength="33.2" lengthAdjust="spacingAndGlyphs">cells</tspan><tspan x="72.2" textLength="67.6" lengthAdjust="spacingAndGlyphs">recovered</tspan></text>
<text font-size="16.5"><tspan x="338.17" y="711.13" textLength="35.8" lengthAdjust="spacingAndGlyphs">Time</tspan><tspan x="379.47" y="710.99" textLength="96.9" lengthAdjust="spacingAndGlyphs">post-injection</tspan><tspan x="487.27" y="710.61" textLength="22.7" lengthAdjust="spacingAndGlyphs">(H)</tspan></text>
</g>
</svg>
</body>
</html>
